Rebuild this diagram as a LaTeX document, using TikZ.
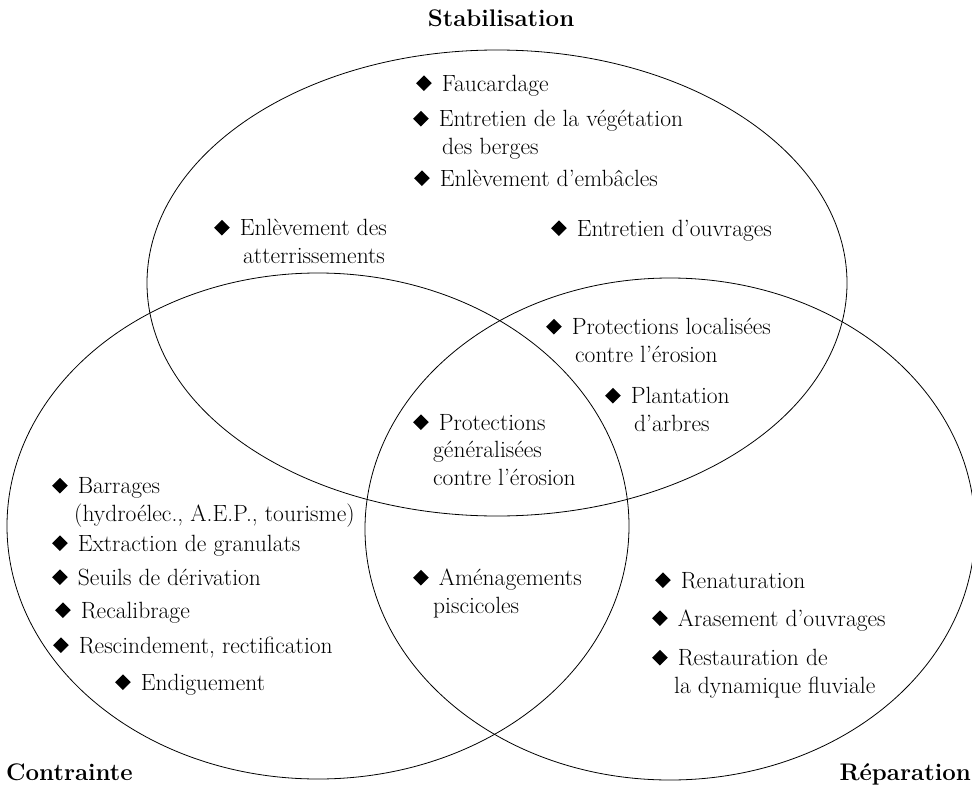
\documentclass[tikz,border=0pt]{standalone}
\usepackage{fontspec}
\usepackage{graphicx}
\usetikzlibrary{shapes.geometric}

\newcommand{\puce}{\rotatebox{45}{\rule{11pt}{11pt}}\hspace{10pt}}

\begin{document}
\begin{tikzpicture}[
    x=1pt, y=-1pt,
    zone/.style={draw, ellipse, line width=0.8pt, inner sep=0pt},
    titre/.style={font=\bfseries\fontsize{24}{28}\selectfont, inner sep=0pt},
    item/.style={anchor=base west, align=left, inner sep=0pt, font=\fontsize{23.5}{27.5}\selectfont}
]
\useasboundingbox (0,0) rectangle (972,787);

% Les trois zones
\node[zone, minimum width=700pt, minimum height=466pt] (stab) at (497,283) {};
\node[zone, minimum width=622pt, minimum height=506pt] (contr) at (318,526) {};
\node[zone, minimum width=610pt, minimum height=502pt] (repar) at (670,529) {};

% Titres
\node[titre, anchor=base] (titstab) at (501,27) {Stabilisation};
\node[titre, anchor=base west] (titcontr) at (6,780) {Contrainte};
\node[titre, anchor=base east] (titrepar) at (971,780) {Réparation};

% Stabilisation seule (ancre = ligne de base de la derniere ligne)
\node[item] (faucard) at (416,91) {\puce Faucardage};
\node[item] (veget) at (413,154) {\puce Entretien de la végétation\\\hspace*{29pt}des berges};
\node[item] (embacl) at (414,186) {\puce Enlèvement d'embâcles};
\node[item] (atterr) at (214,263) {\puce Enlèvement des\\\hspace*{29pt}atterrissements};
\node[item] (ouvr) at (551,236) {\puce Entretien d'ouvrages};

% Stabilisation et Réparation
\node[item] (protloc) at (546,362) {\puce Protections localisées\\\hspace*{29pt}contre l'érosion};
\node[item] (plant) at (605,431) {\puce Plantation\\\hspace*{29pt}d'arbres};

% Les trois
\node[item] (protgen) at (413,485) {\puce Protections\\\hspace*{20pt}généralisées\\\hspace*{20pt}contre l'érosion};

% Contrainte seule
\node[item] (barr) at (52,521) {\puce Barrages\\\hspace*{22pt}(hydroélec., A.E.P., tourisme)};
\node[item] (extr) at (52,551) {\puce Extraction de granulats};
\node[item] (seuil) at (52,585) {\puce Seuils de dérivation};
\node[item] (recal) at (55,618) {\puce Recalibrage};
\node[item] (rescind) at (53,653) {\puce Rescindement, rectification};
\node[item] (endig) at (115,690) {\puce Endiguement};

% Contrainte et Réparation
\node[item] (amenag) at (413,613) {\puce Aménagements\\\hspace*{20pt}piscicoles};

% Réparation seule
\node[item] (renat) at (655,588) {\puce Renaturation};
\node[item] (arase) at (652,626) {\puce Arasement d'ouvrages};
\node[item] (restaur) at (652,693) {\puce Restauration de\\\hspace*{22pt}la dynamique fluviale};

\end{tikzpicture}
\end{document}
